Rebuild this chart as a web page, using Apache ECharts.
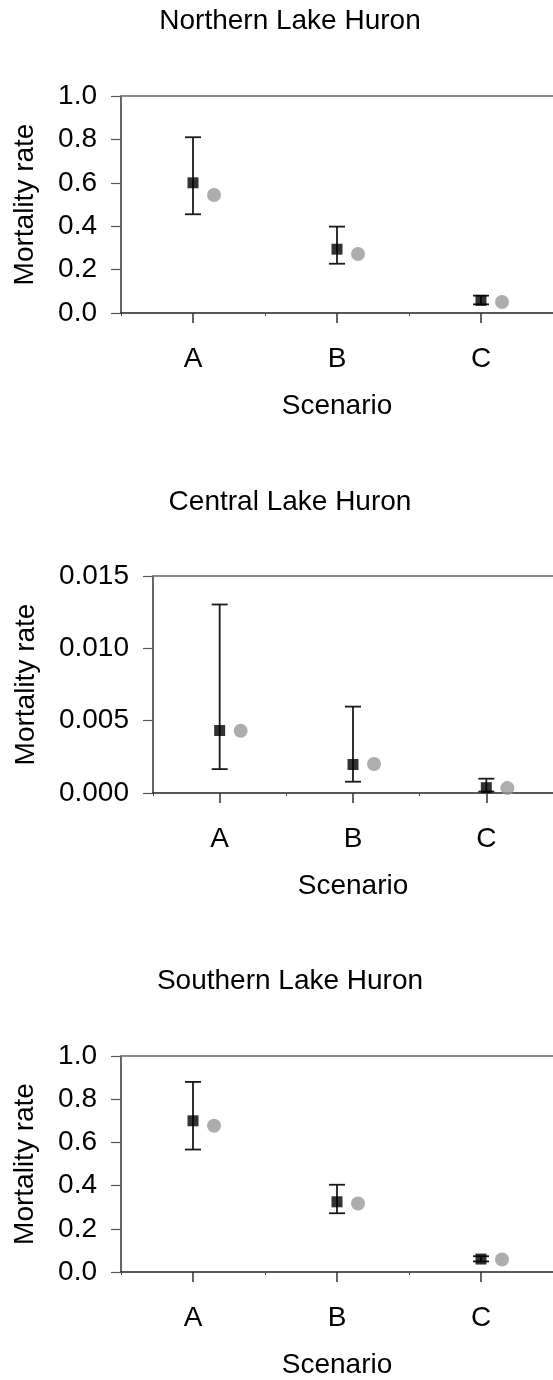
<!DOCTYPE html>
<html>
<head>
<meta charset="utf-8">
<script src="https://cdn.jsdelivr.net/npm/echarts@6/dist/echarts.min.js"></script>
<style>html,body{margin:0;padding:0;background:#fff;}#c{width:553px;height:1380px;}</style>
</head>
<body>
<div id="c"></div>
<script>
const categories = ['A', 'B', 'C'];
const panelTitles = ['Northern Lake Huron', 'Central Lake Huron', 'Southern Lake Huron'];
const yTicksNorth = [0, 0.2, 0.4, 0.6, 0.8, 1.0];
const yTicksCentral = [0, 0.005, 0.010, 0.015];
const yTicksSouth = [0, 0.2, 0.4, 0.6, 0.8, 1.0];

const northMean = [0.600, 0.294, 0.058];
const northLow = [0.455, 0.227, 0.040];
const northHigh = [0.810, 0.398, 0.080];
const northModel = [0.544, 0.272, 0.051];

const centralMean = [0.00432, 0.00197, 0.00037];
const centralLow = [0.00165, 0.00078, 0.00010];
const centralHigh = [0.01303, 0.00597, 0.00099];
const centralModel = [0.00430, 0.00200, 0.00034];

const southMean = [0.700, 0.325, 0.060];
const southLow = [0.567, 0.272, 0.049];
const southHigh = [0.880, 0.404, 0.073];
const southModel = [0.677, 0.317, 0.058];

const FONT = 'Liberation Sans, Arial, sans-serif';
const panels = [
  {title: panelTitles[0], ticks: yTicksNorth, dec: 1, mean: northMean, low: northLow, high: northHigh, model: northModel,
   left: 121, top: 96, titleTop: 2, nameGap: 82},
  {title: panelTitles[1], ticks: yTicksCentral, dec: 3, mean: centralMean, low: centralLow, high: centralHigh, model: centralModel,
   left: 153, top: 576, titleTop: 483, nameGap: 113},
  {title: panelTitles[2], ticks: yTicksSouth, dec: 1, mean: southMean, low: southLow, high: southHigh, model: southModel,
   left: 121, top: 1056, titleTop: 962, nameGap: 82}
];

const option = {
  animation: false,
  backgroundColor: '#fff',
  title: [], grid: [], xAxis: [], yAxis: [], series: []
};

panels.forEach((p, i) => {
  option.title.push({
    text: p.title, left: 285, top: p.titleTop, textAlign: 'center',
    textStyle: {fontFamily: FONT, fontSize: 28, fontWeight: 'normal', color: '#000'}
  });
  option.grid.push({left: p.left, top: p.top, width: 558 - p.left, height: 217, containLabel: false});
  const tmin = p.ticks[0], tmax = p.ticks[p.ticks.length - 1];
  const step = p.ticks[1] - p.ticks[0];
  // main bottom category axis
  option.xAxis.push({
    type: 'category', data: categories, gridIndex: i, position: 'bottom',
    name: 'Scenario', nameLocation: 'middle', nameGap: 79,
    nameTextStyle: {fontFamily: FONT, fontSize: 28, color: '#000'},
    axisLine: {lineStyle: {color: '#222', width: 1.5}},
    axisTick: {show: true, alignWithLabel: true, length: 10, lineStyle: {color: '#333', width: 1.5}},
    axisLabel: {fontFamily: FONT, fontSize: 28, color: '#000', margin: 32},
    splitLine: {show: false}
  });
  // top grey frame line
  option.xAxis.push({
    type: 'category', data: categories, gridIndex: i, position: 'top',
    axisLine: {lineStyle: {color: '#8a8a8a', width: 2}},
    axisTick: {show: false}, axisLabel: {show: false}, splitLine: {show: false}
  });
  // small boundary ticks between categories
  option.xAxis.push({
    type: 'category', data: categories, gridIndex: i, position: 'bottom', offset: 0,
    axisLine: {show: false},
    axisTick: {show: true, alignWithLabel: false, length: 3, lineStyle: {color: '#444', width: 1}},
    axisLabel: {show: false}, splitLine: {show: false}
  });
  option.yAxis.push({
    type: 'value', gridIndex: i, min: tmin, max: tmax, interval: step,
    name: 'Mortality rate', nameLocation: 'middle', nameGap: p.nameGap, nameRotate: 90,
    nameTextStyle: {fontFamily: FONT, fontSize: 28, color: '#000'},
    axisLine: {show: true, lineStyle: {color: '#333', width: 1.5}},
    axisTick: {show: true, length: 10, lineStyle: {color: '#555', width: 1.2}},
    axisLabel: {fontFamily: FONT, fontSize: 28, color: '#000', margin: 24,
      formatter: v => v.toFixed(p.dec)},
    splitLine: {show: false}
  });
  const xi = i * 3;
  option.series.push({
    type: 'custom', xAxisIndex: xi, yAxisIndex: i, z: 2,
    data: categories.map((c, k) => [k, p.low[k], p.high[k]]),
    renderItem: function (params, api) {
      const lo = api.coord([api.value(0), api.value(1)]);
      const hi = api.coord([api.value(0), api.value(2)]);
      const hw = 8;
      const st = {stroke: '#1a1a1a', lineWidth: 1.8};
      return {type: 'group', children: [
        {type: 'line', shape: {x1: lo[0], y1: lo[1], x2: hi[0], y2: hi[1]}, style: st},
        {type: 'line', shape: {x1: lo[0] - hw, y1: lo[1], x2: lo[0] + hw, y2: lo[1]}, style: st},
        {type: 'line', shape: {x1: hi[0] - hw, y1: hi[1], x2: hi[0] + hw, y2: hi[1]}, style: st}
      ]};
    }
  });
  option.series.push({
    type: 'scatter', xAxisIndex: xi, yAxisIndex: i, z: 4,
    data: p.mean, symbol: 'rect', symbolSize: 11,
    itemStyle: {color: '#000'}
  });
  option.series.push({
    type: 'scatter', xAxisIndex: xi, yAxisIndex: i, z: 3,
    data: p.model, symbol: 'circle', symbolSize: 14, symbolOffset: [21, 0],
    itemStyle: {color: '#999999'}
  });
});

const chart = echarts.init(document.getElementById('c'), null, {renderer: 'canvas'});
chart.setOption(option);
</script>
</body>
</html>
